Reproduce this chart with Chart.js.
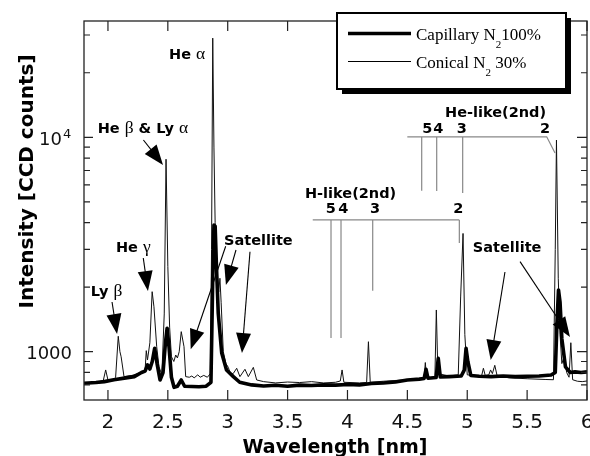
<!DOCTYPE html>
<html><head><meta charset="utf-8">
<script src="https://cdn.jsdelivr.net/npm/chart.js@4.4.0/dist/chart.umd.min.js"></script>
<style>html,body{margin:0;padding:0;background:#fff;}canvas{display:block;}</style>
</head><body>
<canvas id="c" width="590" height="456"></canvas>
<script>
// ---- data ----
const capWl = [1.80,1.90,1.97,2.05,2.15,2.22,2.28,2.31,2.33,2.35,2.37,2.39,2.41,2.435,2.46,2.48,2.494,2.51,2.53,2.552,2.58,2.612,2.64,2.70,2.76,2.82,2.86,2.875,2.885,2.895,2.905,2.921,2.95,2.99,3.047,3.10,3.2,3.3,3.4,3.5,3.6,3.7,3.8,3.9,4.0,4.1,4.2,4.3,4.4,4.5,4.6,4.64,4.656,4.672,4.74,4.758,4.775,4.85,4.95,4.975,4.99,5.005,5.03,5.1,5.2,5.3,5.4,5.5,5.6,5.7,5.735,5.75,5.762,5.775,5.79,5.82,5.86,5.9,5.95,6.0];
const capI = [713,718,725,740,755,765,800,812,867,830,900,1037,880,738,800,1100,1286,1050,760,682,690,738,690,688,686,690,720,2200,3900,3850,2600,1510,985,822,765,720,700,692,697,690,698,695,700,698,703,700,710,715,722,738,745,750,828,752,758,931,762,765,770,820,1037,900,775,768,765,770,765,768,770,778,800,1400,1940,1700,1150,850,800,805,800,805];
const conWl = [1.80,1.90,1.96,1.981,2.0,2.05,2.064,2.086,2.10,2.11,2.134,2.2,2.28,2.31,2.32,2.33,2.35,2.369,2.384,2.407,2.426,2.45,2.47,2.485,2.50,2.515,2.53,2.55,2.566,2.58,2.595,2.612,2.635,2.649,2.68,2.70,2.72,2.75,2.77,2.80,2.83,2.855,2.865,2.875,2.885,2.895,2.91,2.925,2.935,2.945,2.963,2.985,3.005,3.025,3.047,3.075,3.102,3.144,3.172,3.214,3.242,3.3,3.4,3.5,3.6,3.7,3.8,3.9,3.94,3.955,3.97,4.1,4.16,4.175,4.19,4.3,4.5,4.6,4.64,4.65,4.66,4.73,4.742,4.755,4.85,4.925,4.945,4.965,4.98,5.0,5.08,5.12,5.135,5.15,5.18,5.195,5.21,5.23,5.25,5.35,5.5,5.65,5.72,5.735,5.745,5.76,5.775,5.79,5.81,5.83,5.85,5.865,5.88,5.92,5.96,6.0];
const conI = [713,722,730,822,738,745,760,1180,1000,947,765,775,800,820,1011,915,1100,1905,1620,1055,851,780,1500,7900,2500,1300,947,900,965,935,1000,1240,1055,765,760,770,755,780,760,775,760,790,3000,29000,9000,4000,2400,1900,2200,1700,1000,880,845,780,792,837,765,828,765,845,738,725,715,722,718,725,715,720,730,822,720,715,718,1113,720,728,740,745,750,890,755,760,1565,790,770,780,1800,3560,1200,780,770,772,837,775,780,822,790,864,770,755,748,742,740,3000,9700,2200,1200,880,950,800,760,1101,740,728,725,730];

const xTickVals = [2,2.5,3,3.5,4,4.5,5,5.5,6];
const xTickLabels = ['2','2.5','3','3.5','4','4.5','5','5.5','6'];
const yMajorVals = [1000,10000];
const yMinorVals = [700,800,900,2000,3000,4000,5000,6000,7000,8000,9000,20000,30000];

// line-series markers (wavelength positions)
const hLikeNums = ['5','4','3','2'];
const hLikeWl = [3.8625,3.946,4.2107,4.934];
const hLikeEnd = [1158,1158,1925,3214];
const hLikeNumWl = [3.860,3.965,4.230,4.926];
const heLikeNums = ['5','4','3','2'];
const heLikeWl = [4.6198,4.745,4.962];
const heLikeEnd = [5636,5620,5495];
const heLikeNumWl = [4.666,4.758,4.954,5.649];

const XMIN = 1.8, XMAX = 6.0, YMIN = 595.2, YMAX = 34860;

// ---- annotation layout (data coordinates) ----
const labels = [
  {x:2.510, y:23070, runs:[['He ','b'],['α','g']]},
  {x:1.914, y:10440, runs:[['He ','b'],['β','g'],[' & Ly ','b'],['α','g']]},
  {x:2.067, y:2927, runs:[['He ','b'],['γ','g']]},
  {x:1.856, y:1819, runs:[['Ly ','b'],['β','g']]},
  {x:2.969, y:3147, runs:[['Satellite','b']]},
  {x:5.046, y:2927, runs:[['Satellite','b']]},
  {x:3.645, y:5212, runs:[['H-like(2nd)','b']]},
  {x:4.8144, y:12370, runs:[['He-like(2nd)','b']]}
];
const arrows = [
  {from:[2.296,9714], to:[2.460,7428]},
  {from:[2.295,2735], to:[2.334,1919]},
  {from:[2.034,1705], to:[2.076,1209]},
  {from:[2.983,3102], to:[2.691,1026]},
  {from:[3.069,2981], to:[2.985,2046]},
  {from:[3.186,2927], to:[3.119,986]},
  {from:[5.315,2353], to:[5.196,915]},
  {from:[5.441,2630], to:[5.858,1171]}
];

const FB = 'bold 14.5px "DejaVu Sans"';
const FG = '17.5px "Liberation Serif"';

function drawRuns(c, x, y, runs){
  let cx = x;
  for (const [t, f] of runs){
    c.font = f === 'b' ? FB : FG;
    c.fillText(t, cx, y);
    cx += c.measureText(t).width;
  }
}
function arrow(c, x1, y1, x2, y2, hl, hw){
  const a = Math.atan2(y2-y1, x2-x1), ca = Math.cos(a), sa = Math.sin(a);
  c.beginPath(); c.moveTo(x1,y1); c.lineTo(x2-ca*hl*0.7, y2-sa*hl*0.7); c.stroke();
  c.beginPath(); c.moveTo(x2,y2);
  c.lineTo(x2-hl*ca+hw*sa, y2-hl*sa-hw*ca);
  c.lineTo(x2-hl*ca-hw*sa, y2-hl*sa+hw*ca);
  c.closePath(); c.fill();
}

const deco = {
  id:'deco',
  beforeDraw(chart){
    const c = chart.ctx; c.save(); c.fillStyle='#fff'; c.fillRect(0,0,chart.width,chart.height); c.restore();
  },
  afterDatasetsDraw(chart){
    const c = chart.ctx, xs = chart.scales.x, ys = chart.scales.y, A = chart.chartArea;
    const px = v => xs.getPixelForValue(v), py = v => ys.getPixelForValue(v);
    c.save();
    // frame
    c.strokeStyle = '#222'; c.lineWidth = 1.3;
    c.strokeRect(A.left, A.top, A.right-A.left, A.bottom-A.top);
    // ticks
    c.lineWidth = 1.2;
    c.beginPath();
    for (const v of xTickVals){
      const x = px(v);
      c.moveTo(x, A.bottom); c.lineTo(x, A.bottom-10);
      c.moveTo(x, A.top); c.lineTo(x, A.top+10);
    }
    for (const v of yMajorVals){
      const y = py(v);
      c.moveTo(A.left, y); c.lineTo(A.left+9, y);
      c.moveTo(A.right, y); c.lineTo(A.right-10, y);
    }
    for (const v of yMinorVals){
      const y = py(v);
      c.moveTo(A.left, y); c.lineTo(A.left+6, y);
      c.moveTo(A.right, y); c.lineTo(A.right-6, y);
    }
    c.stroke();
    // tick labels
    c.fillStyle = '#111';
    c.font = '20px "DejaVu Sans"'; c.textAlign = 'center'; c.textBaseline = 'alphabetic';
    xTickVals.forEach((v,i)=>{ c.fillText(xTickLabels[i], px(v), A.bottom+28); });
    c.textAlign = 'right'; c.font = '18px "DejaVu Sans"';
    c.fillText('1000', 72, py(1000)+7.6);
    c.fillText('10', 62, py(10000)+7.7);
    c.textAlign = 'left'; c.font = '13px "DejaVu Sans"';
    c.fillText('4', 63, py(10000)+0.5);
    // axis titles
    c.fillStyle = '#000';
    c.font = 'bold 19px "DejaVu Sans"'; c.textAlign = 'center';
    c.fillText('Wavelength [nm]', 335, 453);
    c.save(); c.translate(33, 181.5); c.rotate(-Math.PI/2);
    c.font = 'bold 20px "DejaVu Sans"';
    c.fillText('Intensity [CCD counts]', 0, 0);
    c.restore();
    // series marker brackets
    c.strokeStyle = '#888'; c.lineWidth = 1.2;
    c.beginPath();
    c.moveTo(px(3.710), py(4115)); c.lineTo(px(hLikeWl[3]), py(4115));
    hLikeWl.forEach((w,i)=>{ c.moveTo(px(w), py(4115)); c.lineTo(px(w), py(hLikeEnd[i])); });
    c.moveTo(px(4.4996), py(10050)); c.lineTo(px(5.6636), py(10050)); c.lineTo(px(5.733), py(8451));
    heLikeWl.forEach((w,i)=>{ c.moveTo(px(w), py(10050)); c.lineTo(px(w), py(heLikeEnd[i])); });
    c.stroke();
    c.fillStyle = '#000';
    c.font = FB; c.textAlign = 'center';
    hLikeNums.forEach((t,i)=>c.fillText(t, px(hLikeNumWl[i]), py(4421)));
    heLikeNums.forEach((t,i)=>c.fillText(t, px(heLikeNumWl[i]), py(10510)));
    // labels
    c.textAlign = 'left';
    for (const L of labels) drawRuns(c, px(L.x), py(L.y), L.runs);
    // arrows
    c.strokeStyle = '#000'; c.lineWidth = 1.1;
    for (const a of arrows) arrow(c, px(a.from[0]), py(a.from[1]), px(a.to[0]), py(a.to[1]), 20, 7.5);
    // legend
    const lx = 337, ly = 13, lw = 229, lh = 76;
    c.fillStyle = '#000'; c.fillRect(lx+5, ly+5, lw, lh);
    c.fillStyle = '#fff'; c.fillRect(lx, ly, lw, lh);
    c.strokeStyle = '#000'; c.lineWidth = 2; c.strokeRect(lx, ly, lw, lh);
    c.lineWidth = 3.6; c.beginPath(); c.moveTo(348, 33.5); c.lineTo(411, 33.5); c.stroke();
    c.lineWidth = 1; c.beginPath(); c.moveTo(348, 61.5); c.lineTo(411, 61.5); c.stroke();
    c.fillStyle = '#000';
    const legRow = (x, y, a, b) => {
      c.font = '17px "Liberation Serif"'; c.fillText(a, x, y);
      let w = c.measureText(a).width;
      c.font = '11px "Liberation Serif"'; c.fillText('2', x+w, y+8);
      w += c.measureText('2').width;
      c.font = '17px "Liberation Serif"'; c.fillText(b, x+w, y);
    };
    legRow(416, 40, 'Capillary N', '100%');
    legRow(416, 68, 'Conical N', ' 30%');
    c.restore();
  }
};

const toPts = (xs, ys) => xs.map((x,i)=>({x, y: ys[i]}));

new Chart(document.getElementById('c'), {
  type: 'line',
  data: {
    datasets: [
      {label:'Capillary N2 100%', data: toPts(capWl, capI), borderColor:'#000', borderWidth:3.6, pointRadius:0, tension:0, borderJoinStyle:'round'},
      {label:'Conical N2 30%', data: toPts(conWl, conI), borderColor:'#111', borderWidth:1, pointRadius:0, tension:0}
    ]
  },
  options: {
    responsive:false, animation:false, devicePixelRatio:1,
    layout:{padding:{left:84, right:3, top:21, bottom:56}},
    plugins:{legend:{display:false}, tooltip:{enabled:false}},
    scales:{
      x:{type:'linear', min:XMIN, max:XMAX, display:false},
      y:{type:'logarithmic', min:YMIN, max:YMAX, display:false}
    }
  },
  plugins:[deco]
});
</script>
</body></html>
